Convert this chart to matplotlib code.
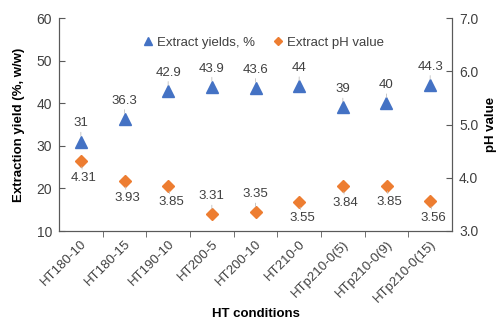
import matplotlib
matplotlib.use("Agg")
import matplotlib.pyplot as plt
import numpy as np

categories = ["HT180-10", "HT180-15", "HT190-10", "HT200-5", "HT200-10",
              "HT210-0", "HTp210-0(5)", "HTp210-0(9)", "HTp210-0(15)"]
yields = [31, 36.3, 42.9, 43.9, 43.6, 44, 39, 40, 44.3]
ph = [4.31, 3.93, 3.85, 3.31, 3.35, 3.55, 3.84, 3.85, 3.56]
yield_labels = ["31", "36.3", "42.9", "43.9", "43.6", "44", "39", "40", "44.3"]
ph_labels = ["4.31", "3.93", "3.85", "3.31", "3.35", "3.55", "3.84", "3.85", "3.56"]
ph_label_above = [False, False, False, True, True, False, False, False, False]

plt.rcParams['font.family'] = ['Liberation Sans', 'DejaVu Sans']
txt = '#404040'
axc = '#595959'

fig = plt.figure(figsize=(4.97, 3.2), dpi=100)
ax = fig.add_axes([59/497, 1-231/320, (452-59)/497, (231-18)/320])
ax2 = ax.twinx()

x = np.arange(len(categories))
ax.plot(x, yields, linestyle='none', marker='^', ms=9, color='#4472C4', label='Extract yields, %', zorder=3)
ax2.plot(x, ph, linestyle='none', marker='D', ms=6.5, color='#ED7D31', label='Extract pH value', zorder=3)

ax.set_xlim(-0.5, len(categories) - 0.5)
ax.set_ylim(10, 60)
ax.set_yticks([10, 20, 30, 40, 50, 60])
ax2.set_ylim(3.0, 7.0)
ax2.set_yticks([3, 4, 5, 6, 7])
ax2.set_yticklabels(["3.0", "4.0", "5.0", "6.0", "7.0"])

ax.set_xticks(x)
ax.set_xticklabels(categories, rotation=45, ha='right', rotation_mode='anchor', fontsize=9.5, color=txt)
ax.set_xticks(np.arange(len(categories) - 1) + 0.5, minor=True)
ax.tick_params(axis='x', which='major', length=0, pad=5)
ax.tick_params(axis='x', which='minor', length=4, direction='out', color=axc)
ax.tick_params(axis='y', direction='in', length=4, labelsize=10, labelcolor=txt, color=axc, pad=5)
ax2.tick_params(axis='y', direction='in', length=4, labelsize=10, labelcolor=txt, color=axc, pad=5)

for a in (ax, ax2):
    a.spines['top'].set_visible(False)
    for s in ('left', 'right', 'bottom'):
        a.spines[s].set_color(axc)
        a.spines[s].set_linewidth(0.8)

ax.set_ylabel("Extraction yield (%, w/w)", fontsize=9.5, fontweight='bold', color='black')
ax.yaxis.set_label_coords((25 - 59) / 393, 0.5)
ax2.set_ylabel("pH value", fontsize=9.5, fontweight='bold', color='black', rotation=90)
ax2.yaxis.set_label_coords((485 - 59) / 393, 0.5)
ax.set_xlabel("HT conditions", fontsize=9.5, fontweight='bold', color='black')
ax.xaxis.set_label_coords(0.5, (231 - 308) / 213)

lead = dict(arrowstyle='-', color='#BFBFBF', lw=0.6, shrinkA=0, shrinkB=4)
for xi, yi, lab in zip(x, yields, yield_labels):
    ax.annotate(lab, (xi, yi), xytext=(0, 13), textcoords='offset points',
                ha='center', va='center', fontsize=9.5, color=txt, arrowprops=lead)
for xi, yi, lab, above in zip(x, ph, ph_labels, ph_label_above):
    dy = 13 if above else -12
    dx = 0 if above else 2
    ax2.annotate(lab, (xi, yi), xytext=(dx, dy), textcoords='offset points',
                 ha='center', va='center', fontsize=9.5, color=txt, arrowprops=lead)

h1, l1 = ax.get_legend_handles_labels()
h2, l2 = ax2.get_legend_handles_labels()
leg = ax.legend(h1 + h2, l1 + l2, ncol=2, frameon=False, loc='upper center',
                bbox_to_anchor=(0.52, 0.97), fontsize=9.5, handlelength=0.8,
                handletextpad=0.3, columnspacing=1.3, markerscale=0.7)
for t in leg.get_texts():
    t.set_color(txt)

fig.savefig("out.png", dpi=100)
